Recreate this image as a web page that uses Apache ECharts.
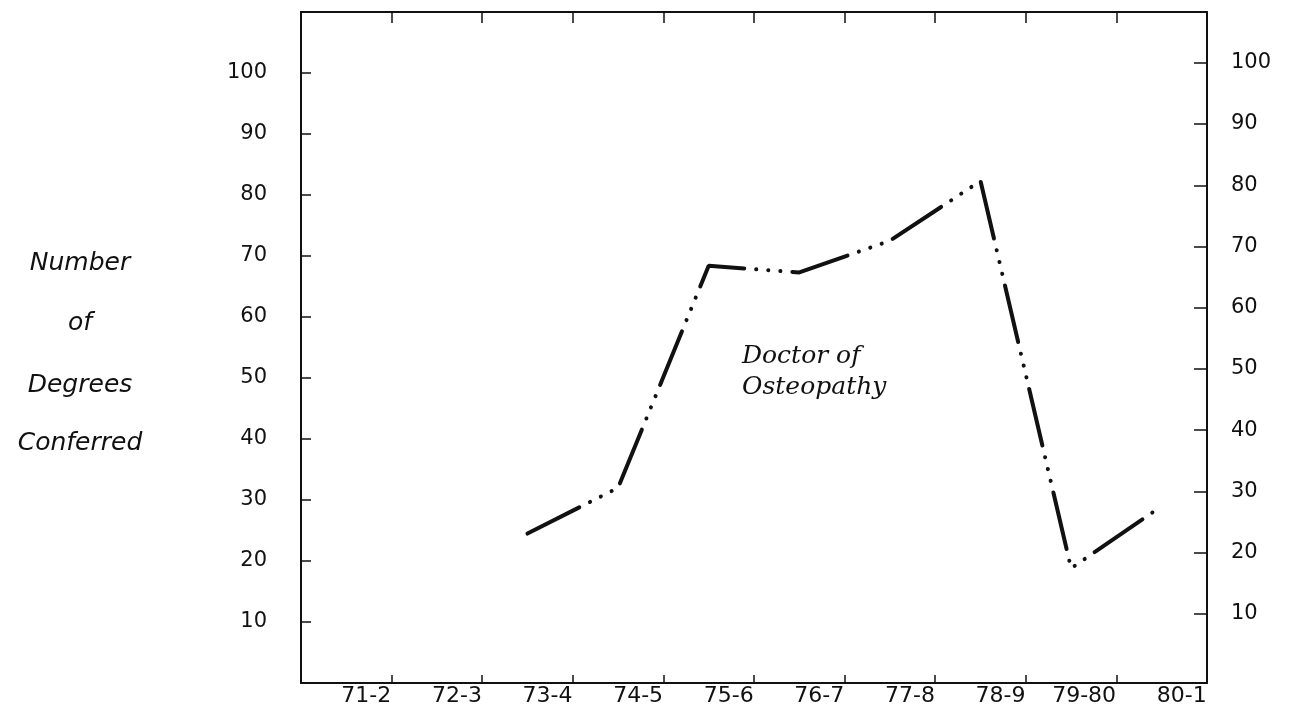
<!DOCTYPE html>
<html>
<head>
<meta charset="utf-8">
<script src="https://cdn.jsdelivr.net/npm/echarts@6/dist/echarts.min.js"></script>
<style>
  html, body { margin: 0; padding: 0; background: #fff; }
  #main { width: 1309px; height: 716px; }
</style>
</head>
<body>
<div id="main"></div>
<script>
// academic years on the x axis
var categories = ["71-2", "72-3", "73-4", "74-5", "75-6", "76-7", "77-8", "78-9", "79-80", "80-1"];
// Doctor of Osteopathy, degrees conferred (no data before 73-4)
var osteopathy = [null, null, 24.5, 32, 68.4, 67.3, 72.5, 82.3, 18.8, 29];
// tick labels on both y axes
var yTicks = [10, 20, 30, 40, 50, 60, 70, 80, 90, 100];
// left-hand axis title, one word per line
var yTitle = ["Number", "of", "Degrees", "Conferred"];
var seriesLabel = ["Doctor of", "Osteopathy"];

var ink = "#111";
var numFont = "DejaVu Sans";

var myChart = echarts.init(document.getElementById("main"));

var titleY = [263, 323, 385, 443];
var graphics = yTitle.map(function (w, i) {
  return {
    type: "text",
    x: 80,
    y: titleY[i],
    style: {
      text: w,
      fill: ink,
      font: "italic 25px 'DejaVu Sans'",
      align: "center",
      verticalAlign: "middle"
    }
  };
});
seriesLabel.forEach(function (w, i) {
  graphics.push({
    type: "text",
    x: 742,
    y: 356 + i * 31,
    style: {
      text: w,
      fill: ink,
      font: "italic 25px 'DejaVu Serif'",
      align: "left",
      verticalAlign: "middle"
    }
  });
});

// tick marks shared by the top and bottom x axes
function xTicks(len) {
  return { show: true, inside: true, alignWithLabel: false, length: len, interval: 0, lineStyle: { color: ink, width: 1.5 } };
}

var option = {
  backgroundColor: "#fff",
  animation: false,
  grid: { left: 301, right: 102, top: 12, bottom: 33 },
  graphic: graphics,
  xAxis: [
    {
      type: "category",
      position: "bottom",
      data: categories,
      boundaryGap: true,
      axisLine: { show: true, onZero: false, lineStyle: { color: ink, width: 2 } },
      axisTick: xTicks(8),
      axisLabel: {
        interval: 0,
        margin: 2,
        color: ink,
        fontFamily: numFont,
        fontSize: 22,
        // labels sit right-aligned against the end of their band
        formatter: function (v) { return "{r|" + v + "}"; },
        rich: { r: { width: 90, align: "right", fontFamily: numFont, fontSize: 22, color: ink } }
      },
      splitLine: { show: false }
    },
    {
      type: "category",
      position: "top",
      data: categories,
      boundaryGap: true,
      axisLine: { show: true, onZero: false, lineStyle: { color: ink, width: 2 } },
      axisTick: xTicks(11),
      axisLabel: { show: false, interval: 0 },
      splitLine: { show: false }
    }
  ],
  yAxis: [
    {
      type: "value",
      position: "left",
      min: 0,
      max: 110,
      axisLine: { show: true, onZero: false, lineStyle: { color: ink, width: 2 } },
      axisTick: { show: true, inside: true, length: 10, customValues: yTicks, lineStyle: { color: ink, width: 1.5 } },
      axisLabel: { margin: 34, color: ink, fontFamily: numFont, fontSize: 21, customValues: yTicks },
      splitLine: { show: false }
    },
    {
      type: "value",
      position: "right",
      // the scanned right scale sits a little higher than the left one
      min: -1.3,
      max: 108.3,
      axisLine: { show: true, onZero: false, lineStyle: { color: ink, width: 2 } },
      axisTick: { show: true, inside: true, length: 13, customValues: yTicks, lineStyle: { color: ink, width: 1.5 } },
      axisLabel: { margin: 24, color: ink, fontFamily: numFont, fontSize: 21, customValues: yTicks },
      splitLine: { show: false }
    }
  ],
  series: [
    {
      name: "Doctor of Osteopathy",
      type: "line",
      xAxisIndex: 0,
      yAxisIndex: 0,
      data: osteopathy,
      symbol: "none",
      connectNulls: false,
      lineStyle: {
        color: ink,
        width: 4,
        cap: "round",
        // dash, then three dots
        type: [58, 12, 0.1, 12, 0.1, 12, 0.1, 12]
      }
    }
  ]
};

myChart.setOption(option);
</script>
</body>
</html>
